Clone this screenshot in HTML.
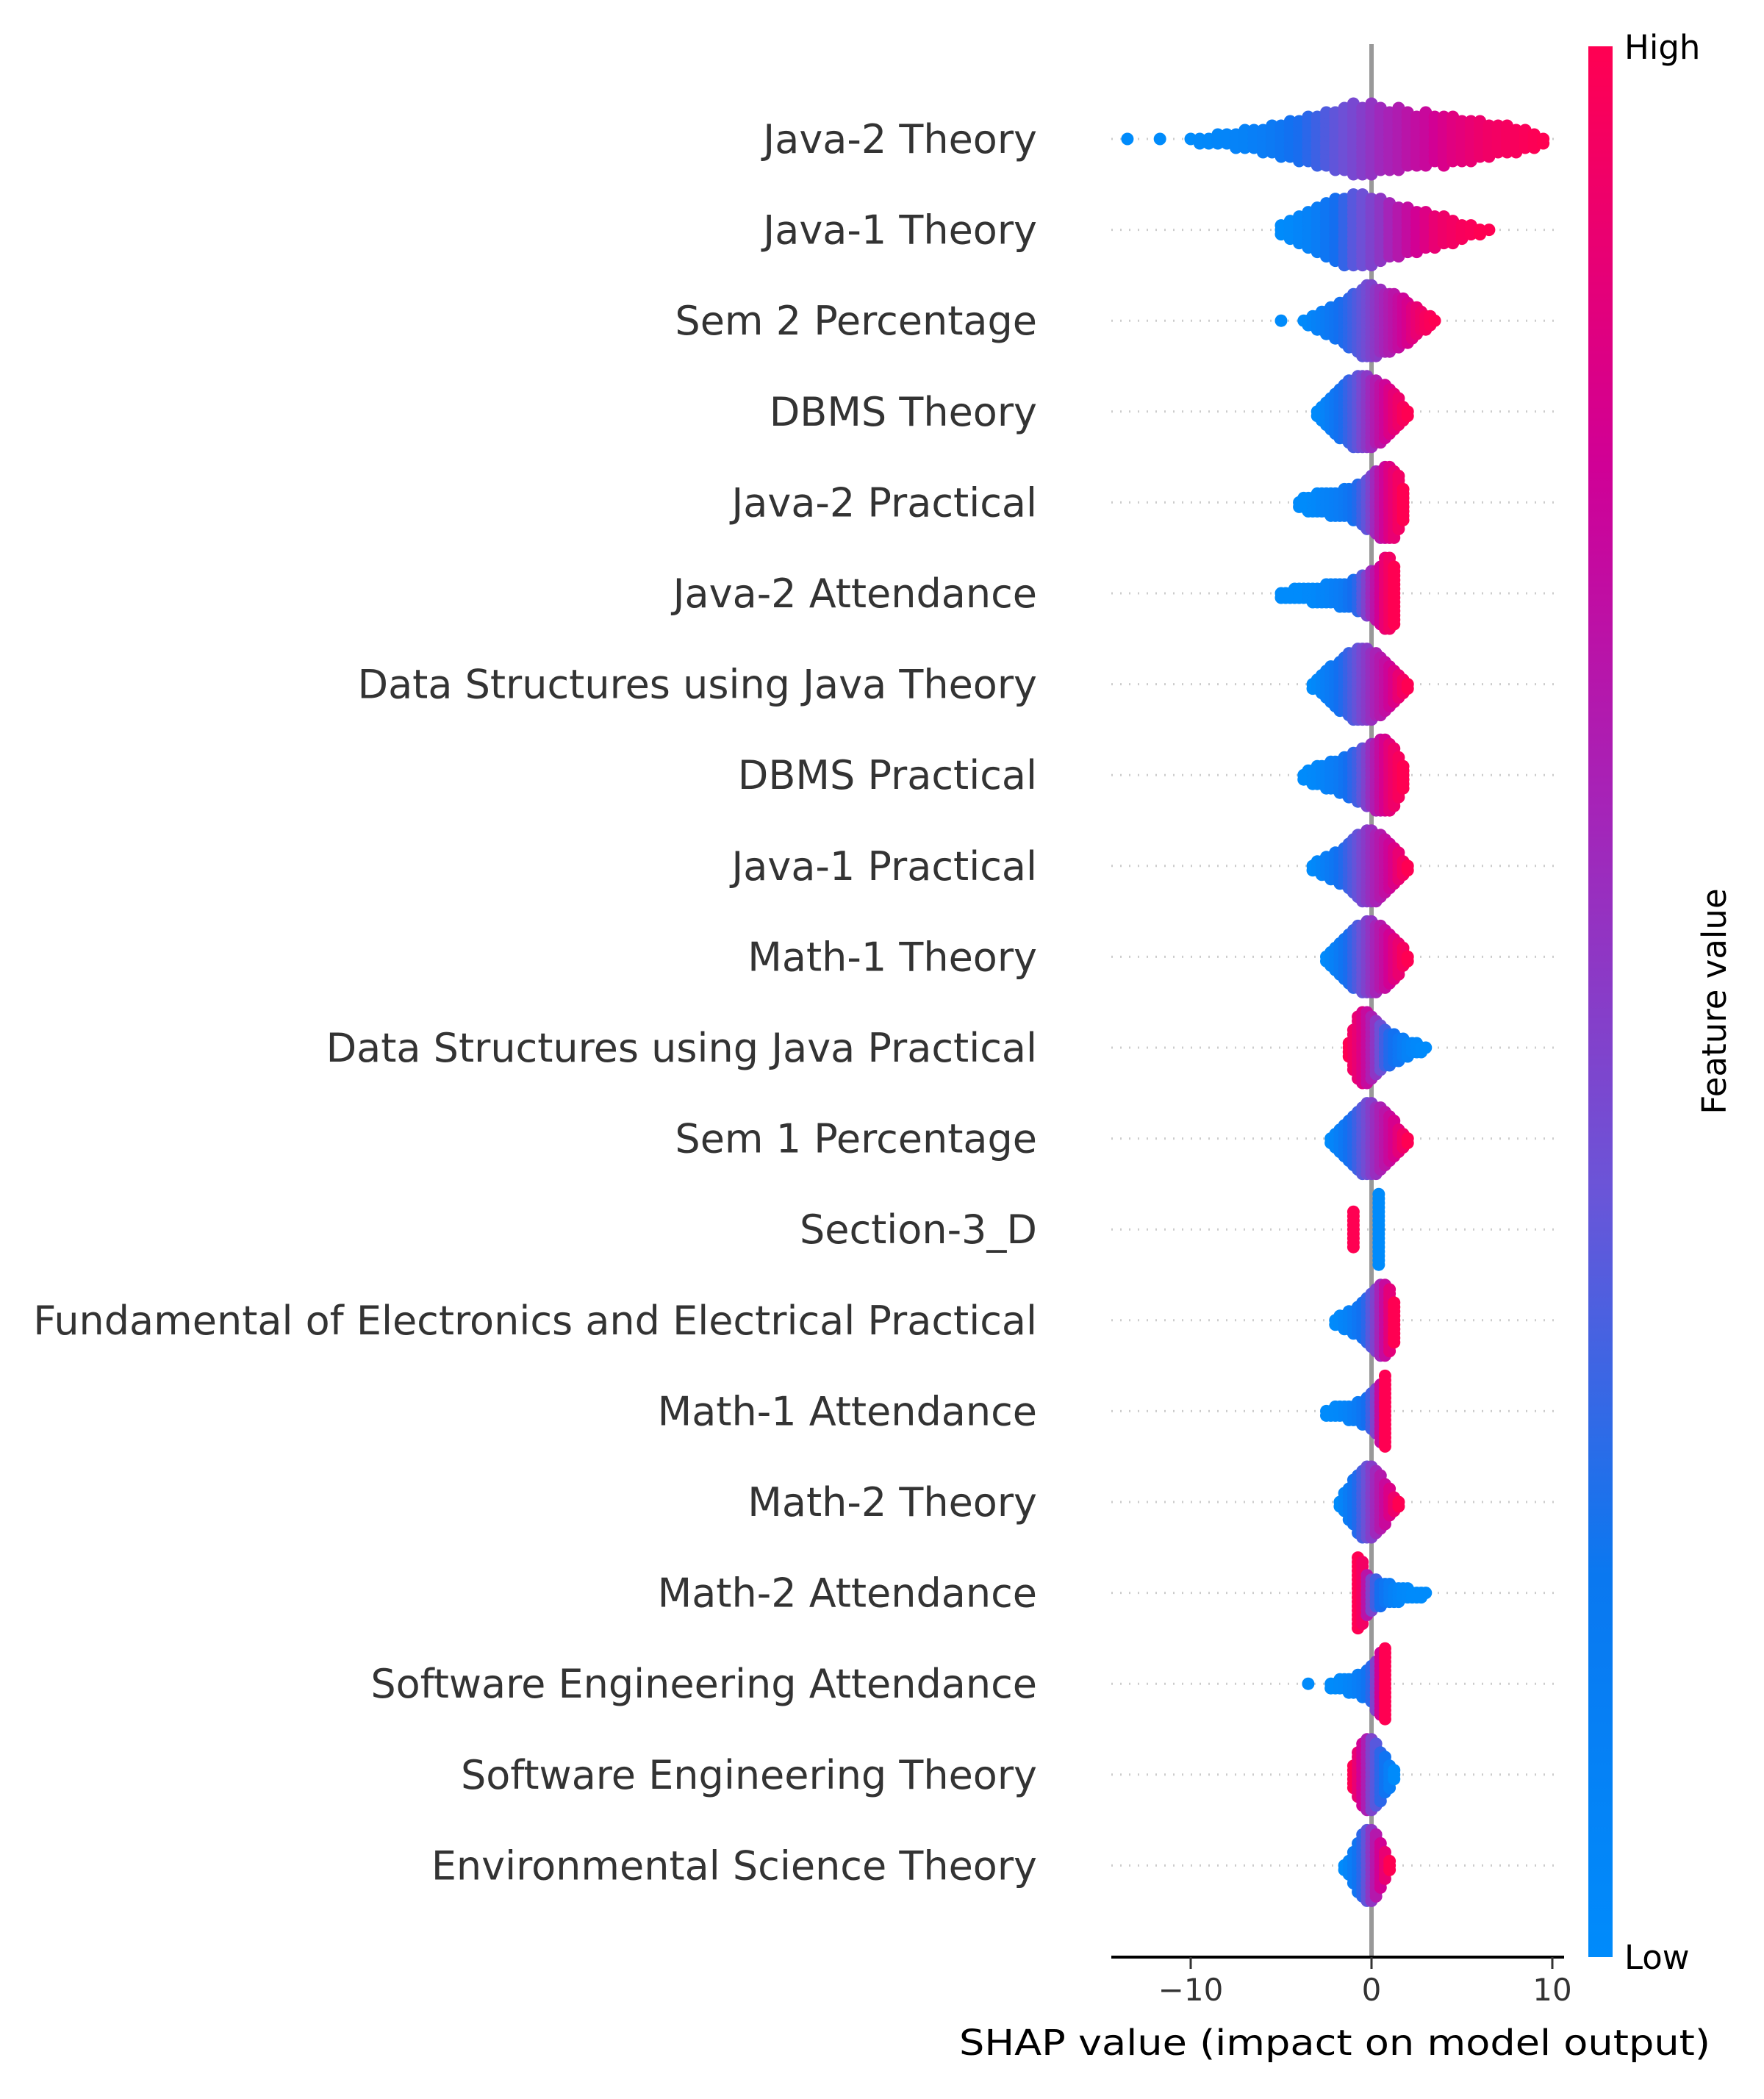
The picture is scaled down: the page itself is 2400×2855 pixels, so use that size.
<!DOCTYPE html>
<html><head><meta charset="utf-8"><style>
html,body{margin:0;padding:0;background:#fff;}
svg text{font-family:"DejaVu Sans","Liberation Sans",sans-serif;}
</style></head><body>
<svg id="chart" width="2400" height="2850" viewBox="0 0 2400 2850" xmlns="http://www.w3.org/2000/svg">
<defs><linearGradient id="cbar" x1="0" y1="1" x2="0" y2="0">
<stop offset="0" stop-color="#008bfb"/><stop offset="0.2" stop-color="#0a78f0"/><stop offset="0.4" stop-color="#6a55d8"/><stop offset="0.6" stop-color="#a524b8"/><stop offset="0.78" stop-color="#d00096"/><stop offset="1" stop-color="#ff0052"/>
</linearGradient></defs>
<g id="grid"></g><g id="zeroline"></g><g id="dots"></g><g id="labels"></g><g id="axis"></g>
<rect x="2161" y="63" width="33" height="2599" fill="url(#cbar)"/>
<text x="2210" y="80" font-size="45" fill="#000">High</text>
<text x="2210" y="2678" font-size="45" fill="#000">Low</text>
<text transform="translate(2348,1362) rotate(-90)" text-anchor="middle" font-size="45" fill="#000">Feature value</text>
<text x="1816" y="2795" text-anchor="middle" font-size="48" fill="#000" textLength="1022" lengthAdjust="spacingAndGlyphs">SHAP value (impact on model output)</text>
</svg>
<script>
const features = ["Java-2 Theory","Java-1 Theory","Sem 2 Percentage","DBMS Theory","Java-2 Practical","Java-2 Attendance","Data Structures using Java Theory","DBMS Practical","Java-1 Practical","Math-1 Theory","Data Structures using Java Practical","Sem 1 Percentage","Section-3_D","Fundamental of Electronics and Electrical Practical","Math-1 Attendance","Math-2 Theory","Math-2 Attendance","Software Engineering Attendance","Software Engineering Theory","Environmental Science Theory"];
const binStart = [-10,-5,-3.75,-3,-4,-5,-3.25,-3.75,-3.25,-2.5,-1.25,-2.25,-1,-2,-2.5,-1.75,-0.75,-2.25,-1,-1.5];
const binStep = [0.5,0.5,0.25,0.25,0.25,0.25,0.25,0.25,0.25,0.25,0.25,0.25,1.4,0.25,0.25,0.25,0.25,0.25,0.25,0.25];
const binCounts = [
[1,2,2,3,3,4,5,5,6,7,8,9,10,11,12,13,14,15,17,16,17,15,14,15,13,12,13,11,12,11,10,10,9,8,7,7,6,5,4,2],
[3,5,7,9,11,13,15,16,17,17,16,15,13,12,11,10,9,8,7,6,4,3,2,1],
[1,2,3,4,5,6,7,8,9,10,12,13,14,16,17,17,16,15,14,14,13,12,11,10,8,7,5,4,3,1],
[2,4,6,8,10,12,13,15,16,17,17,17,16,15,14,13,11,9,7,4,2],
[2,3,4,4,5,5,5,6,6,6,7,7,8,9,10,12,13,15,16,17,17,16,13,8],
[2,2,2,3,3,3,3,4,4,4,5,5,5,6,6,6,7,8,9,10,11,12,14,17,17,14],
[2,3,5,7,9,10,12,13,15,16,17,17,17,16,15,14,12,10,8,6,4,2],
[2,3,4,5,5,6,7,7,8,9,10,11,12,13,14,15,16,17,17,16,14,10,6],
[2,3,4,5,6,7,8,9,11,13,15,16,17,17,16,15,13,11,9,7,4,2],
[2,4,6,8,10,12,14,15,16,17,17,16,15,14,12,10,8,5,2],
[4,10,15,17,17,15,13,11,9,8,7,6,5,4,3,3,2,1],
[2,4,6,8,10,12,14,16,17,17,16,15,13,11,9,6,4,2],
[9,17],
[2,3,4,5,6,7,9,11,13,15,17,17,15,10],
[2,2,3,3,3,4,4,5,6,7,9,11,14,17],
[2,5,8,11,14,16,17,17,15,13,10,7,4,2],
[17,15,10,8,7,6,5,5,4,4,3,3,2,2,2,1],
[2,2,3,3,4,4,5,6,7,9,12,15,17],
[6,11,15,17,17,15,12,9,6,3],
[2,4,8,12,15,17,17,15,11,7,3]
];
const binFeatureValue = [
[0,.02,.03,.04,.05,.07,.08,.1,.12,.15,.18,.22,.26,.3,.34,.38,.42,.45,.48,.52,.56,.6,.63,.66,.7,.73,.76,.8,.83,.86,.88,.9,.92,.94,.95,.96,.97,.98,.99,1],
[0,.02,.05,.08,.12,.18,.25,.32,.4,.45,.5,.55,.62,.68,.74,.8,.85,.9,.93,.95,.97,.98,1,1],
[0,.02,.05,.08,.1,.13,.16,.2,.23,.27,.3,.34,.38,.42,.46,.5,.54,.58,.62,.66,.7,.74,.78,.82,.86,.9,.93,.96,.98,1],
[0,.03,.07,.12,.17,.22,.27,.32,.37,.42,.48,.54,.6,.66,.72,.78,.84,.89,.93,.97,1],
[0,0,0,.02,.03,.05,.07,.08,.1,.12,.15,.18,.22,.28,.35,.42,.5,.6,.7,.78,.85,.9,.95,1],
[0,0,0,0,0,0,.02,.02,.03,.05,.05,.07,.1,.12,.15,.2,.25,.3,.4,.5,.6,.7,.8,.9,.95,1],
[0,.03,.06,.1,.14,.18,.23,.28,.33,.38,.43,.48,.53,.58,.63,.68,.73,.78,.84,.9,.95,1],
[0,0,.02,.03,.05,.07,.1,.12,.15,.2,.25,.3,.35,.42,.5,.58,.66,.74,.82,.88,.93,.97,1],
[0,.03,.06,.1,.14,.18,.23,.28,.33,.38,.43,.48,.53,.58,.63,.68,.73,.78,.84,.9,.95,1],
[0,.04,.09,.14,.2,.26,.32,.38,.44,.5,.56,.62,.68,.74,.8,.86,.91,.96,1],
[1,.95,.9,.85,.75,.65,.55,.45,.35,.28,.22,.17,.12,.08,.05,.03,.01,0],
[0,.05,.1,.16,.22,.28,.34,.4,.46,.52,.58,.64,.7,.76,.82,.88,.94,1],
[1,0],
[0,.02,.05,.08,.12,.17,.22,.3,.4,.5,.62,.75,.88,1],
[0,0,.02,.03,.05,.07,.1,.13,.18,.25,.35,.5,.75,1],
[0,.06,.13,.2,.28,.36,.44,.52,.6,.68,.76,.84,.92,1],
[1,.95,.7,.5,.35,.25,.18,.12,.08,.05,.03,.02,0,0,0,0],
[0,0,.02,.03,.05,.07,.1,.14,.2,.3,.5,.8,1],
[1,.9,.8,.65,.5,.4,.3,.2,.1,0],
[0,.05,.12,.2,.3,.42,.55,.68,.8,.9,1]
];
const outlierRow = [0,0,2,17];
const outlierValue = [-13.5,-11.7,-5,-3.5];
const outlierFv = [0,0,0,0];
const xTicks = [-10,0,10];
const xTickLabels = ["\u221210","0","10"];

const NS="http://www.w3.org/2000/svg";
const X0=1866, PXU=24.6;
const xs=v=>X0+v*PXU;
const ROW0=189, ROWH=123.6;
const ys=i=>ROW0+i*ROWH;
const stops=[[0,[0,139,251]],[0.25,[20,110,240]],[0.45,[110,80,214]],[0.62,[165,36,184]],[0.8,[210,0,148]],[1,[255,0,82]]];
function col(t){t=Math.max(0,Math.min(1,t));for(let k=1;k<stops.length;k++){if(t<=stops[k][0]){const a=stops[k-1],b=stops[k];const f=(t-a[0])/(b[0]-a[0]);const c=a[1].map((v,j)=>Math.round(v+(b[1][j]-v)*f));return `rgb(${c[0]},${c[1]},${c[2]})`;}}return "rgb(255,0,82)";}
function mk(tag,attrs,parent){const e=document.createElementNS(NS,tag);for(const k in attrs)e.setAttribute(k,attrs[k]);parent.appendChild(e);return e;}
const grid=document.getElementById('grid'),dots=document.getElementById('dots'),labels=document.getElementById('labels'),axis=document.getElementById('axis'),zl=document.getElementById('zeroline');
const SP=6,R=8.5;
features.forEach((name,i)=>{
  const y=ys(i);
  const g=mk('line',{x1:1512,x2:2118,y1:y,y2:y,stroke:'#cccccc','stroke-width':3,'stroke-dasharray':'2 10'},grid);
  
  
  const t=mk('text',{x:1411,y:y+19,'text-anchor':'end','font-size':54,fill:'#333'},labels);
  t.textContent=name;
  
  
});
const zline=mk('line',{x1:X0,x2:X0,y1:60,y2:2662,stroke:'#999','stroke-width':6},zl);


function dot(x,y,fv){
  const c=mk('ellipse',{cx:x,cy:y,rx:R,ry:R,fill:col(fv)},dots);
  
  
}
binCounts.forEach((counts,i)=>{
  const yc=ys(i);
  counts.forEach((n,b)=>{
    const v=binStart[i]+b*binStep[i];
    const fv=binFeatureValue[i][b];
    for(let k=0;k<n;k++){
      const off=((k+1)>>1)*(k%2?1:-1)*SP;
      dot(xs(v),yc+off,fv);
    }
  });
});
outlierRow.forEach((r,j)=>dot(xs(outlierValue[j]),ys(r),outlierFv[j]));
const ax=mk('line',{x1:1512,x2:2128,y1:2662,y2:2662,stroke:'#000','stroke-width':4},axis);


xTicks.forEach((v,j)=>{
  const tk=mk('line',{x1:xs(v),x2:xs(v),y1:2662,y2:2678,stroke:'#333','stroke-width':3},axis);
  
  
  const tl=mk('text',{x:xs(v),y:2721,'text-anchor':'middle','font-size':42,fill:'#333'},axis);
  tl.textContent=xTickLabels[j];
  
  
});
</script>
</body></html>
